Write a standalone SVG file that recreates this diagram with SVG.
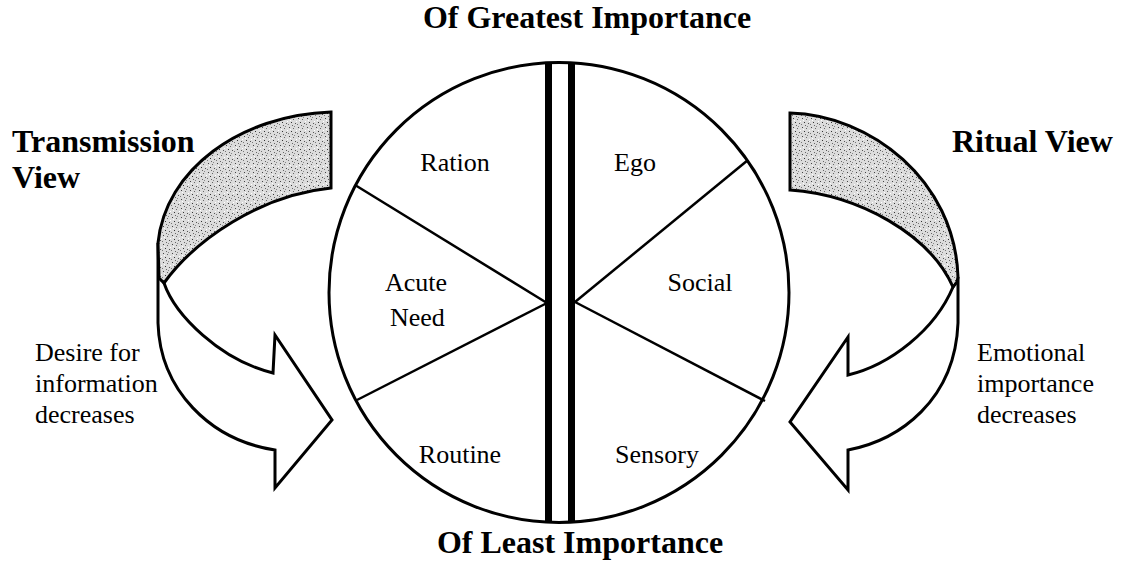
<svg xmlns="http://www.w3.org/2000/svg" width="1121" height="569" viewBox="0 0 1121 569">
<style>
.title{font-family:"Liberation Serif","Times New Roman",serif;font-weight:bold;font-size:32px;fill:#000}
.lbl{font-family:"Liberation Serif","Times New Roman",serif;font-size:26px;fill:#000}
.ol{fill:none;stroke:#000;stroke-width:3;stroke-linejoin:miter}
.div{stroke:#000;stroke-width:2.5;fill:none}
.band{fill:url(#stip);stroke:#000;stroke-width:3;stroke-linejoin:miter}
.body{fill:#fff;stroke:#000;stroke-width:3;stroke-linejoin:miter}
</style>
<defs>
<pattern id="stip" width="9" height="9" patternUnits="userSpaceOnUse">
<rect width="9" height="9" fill="#dcdcdc"/>
<rect x="1" y="1" width="1" height="1" fill="#444"/>
<rect x="5" y="2" width="1" height="1" fill="#666"/>
<rect x="3" y="5" width="1" height="1" fill="#333"/>
<rect x="7" y="6" width="1" height="1" fill="#555"/>
<rect x="0" y="7" width="1" height="1" fill="#777"/>
<rect x="6" y="0" width="1" height="1" fill="#888"/>
<rect x="4" y="8" width="1" height="1" fill="#666"/>
<rect x="2" y="3" width="1" height="1" fill="#fff"/>
<rect x="8" y="4" width="1" height="1" fill="#fff"/>
</pattern>
</defs>
<rect width="1121" height="569" fill="#fff"/>

<g id="title-top"><text class="title" x="587" y="28" text-anchor="middle">Of Greatest Importance</text></g>
<g id="title-bottom"><text class="title" x="580" y="553" text-anchor="middle">Of Least Importance</text></g>

<g id="wheel">
<circle cx="559" cy="292.5" r="230" class="ol"/>
<rect x="545" y="63" width="7" height="459" fill="#000"/>
<rect x="568" y="63" width="7" height="459" fill="#000"/>
</g>

<g id="connectors">
<line class="div" x1="355" y1="185" x2="547" y2="303"/>
<line class="div" x1="357" y1="400" x2="547" y2="303"/>
<line class="div" x1="575" y1="302" x2="748" y2="160"/>
<line class="div" x1="575" y1="302" x2="765" y2="401"/>
</g>

<g id="ration"><text class="lbl" x="455" y="171" text-anchor="middle">Ration</text></g>
<g id="ego"><text class="lbl" x="635" y="171" text-anchor="middle">Ego</text></g>
<g id="acute-need"><text class="lbl" x="385" y="291">Acute</text><text class="lbl" x="390" y="326">Need</text></g>
<g id="social"><text class="lbl" x="700" y="291" text-anchor="middle">Social</text></g>
<g id="routine"><text class="lbl" x="460" y="463" text-anchor="middle">Routine</text></g>
<g id="sensory"><text class="lbl" x="657" y="463" text-anchor="middle">Sensory</text></g>

<g id="transmission-arrow">
<path class="body" d="M158,243 L158,323 C160,390 210,440 275,450 L275,488 L332,420 L275,335 L273,373 C220,360 175,315 164,283 Z"/>
<path class="band" d="M331,112 C240,115 165,170 158,243 L159,278 L164,283 C195,240 260,195 331,188 Z"/>
</g>
<g id="ritual-arrow">
<path class="body" d="M958,277 L958,323 C955,400 900,440 848,450 L848,490 L790,422 L848,337 L848,375 C890,365 935,330 953,287 Z"/>
<path class="band" d="M790,113 C870,115 955,180 958,277 L957,282 L953,287 C930,235 860,195 790,190 Z"/>
</g>

<g id="transmission-label"><text class="title" x="12" y="152">Transmission</text><text class="title" x="12" y="188">View</text></g>
<g id="ritual-label"><text class="title" x="952" y="152">Ritual View</text></g>
<g id="desire-text"><text class="lbl" x="35" y="361">Desire for</text><text class="lbl" x="35" y="392">information</text><text class="lbl" x="35" y="423">decreases</text></g>
<g id="emotional-text"><text class="lbl" x="977" y="361">Emotional</text><text class="lbl" x="977" y="392">importance</text><text class="lbl" x="977" y="423">decreases</text></g>
</svg>
